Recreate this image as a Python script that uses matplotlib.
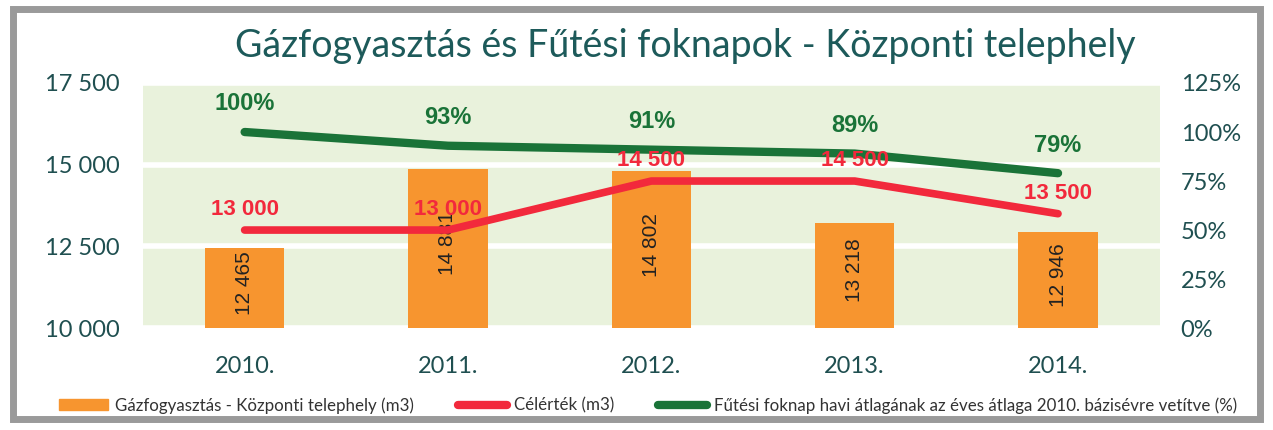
import numpy as np
from matplotlib import pyplot as plt
from matplotlib.patches import Rectangle
from matplotlib.lines import Line2D
from matplotlib.patches import Patch

years = ["2010.", "2011.", "2012.", "2013.", "2014."]
gas_m3 = [12465, 14881, 14802, 13218, 12946]
target_m3 = [13000, 13000, 14500, 14500, 13500]
degree_days_pct = [100, 93, 91, 89, 79]

gas_labels = ["12 465", "14 881", "14 802", "13 218", "12 946"]
target_labels = ["13 000", "13 000", "14 500", "14 500", "13 500"]

TEAL = "#1f4f50"
ORANGE = "#f7952f"
RED = "#f2293c"
GREEN = "#1a7338"
BG = "#e9f2dc"

plt.rcParams["font.family"] = ["Lato", "DejaVu Sans"]

fig = plt.figure(figsize=(12.73, 4.30), dpi=100)
fig.patch.set_facecolor("white")

# scanned frame
fig.add_artist(Rectangle((0.010, 0.025), 0.980, 0.955, transform=fig.transFigure,
                         fill=False, edgecolor="#9a9a9a", linewidth=5))

ax = fig.add_axes([0.1123, 0.237, 0.7987, 0.570])
ax.set_facecolor(BG)
x = np.arange(len(years))

ax.bar(x, [g - 10000 for g in gas_m3], bottom=10000, width=0.39, color=ORANGE, zorder=2)
for xi, g, lab in zip(x, gas_m3, gas_labels):
    ax.text(xi, (g + 10000) / 2 + 150, lab, rotation=90, ha="center", va="center",
            fontsize=15, color="#222222", family="Liberation Sans", zorder=3)

ax.plot(x, target_m3, color=RED, linewidth=5.5, solid_capstyle="round", zorder=4)

ax.set_xlim(-0.5, 4.5)
ax.set_ylim(10000, 17500)
ax.set_yticks([10000, 12500, 15000, 17500])
ax.set_yticklabels(["10 000", "12 500", "15 000", "17 500"])
ax.set_xticks(x)
ax.set_xticklabels(years)
ax.grid(axis="y", color="white", linewidth=4, zorder=1)
ax.set_axisbelow(True)
for s in ax.spines.values():
    s.set_visible(False)
ax.tick_params(length=0, labelsize=17, colors=TEAL)
ax.tick_params(axis="x", pad=20)
ax.tick_params(axis="y", pad=17)

ax2 = ax.twinx()
ax2.plot(x, degree_days_pct, color=GREEN, linewidth=6, solid_capstyle="round", zorder=4)
for xi, p in zip(x, degree_days_pct):
    ax2.annotate(f"{p}%", (xi, p), xytext=(0, 12), textcoords="offset points", ha="center",
                 va="bottom", fontsize=17, fontweight="bold", color=GREEN,
                 family="Liberation Sans")
# target labels on top axes so the green line does not hide them
for xi, t, lab in zip(x, target_m3, target_labels):
    ax2.annotate(lab, (xi, t), xycoords=ax.transData, xytext=(0, 7),
                 textcoords="offset points", ha="center", va="bottom", fontsize=16,
                 fontweight="bold", color=RED, family="Liberation Sans", zorder=5)
ax2.set_ylim(0, 125)
ax2.set_yticks([0, 25, 50, 75, 100, 125])
ax2.set_yticklabels([f"{v}%" for v in [0, 25, 50, 75, 100, 125]])
for s in ax2.spines.values():
    s.set_visible(False)
ax2.tick_params(length=0, labelsize=17, colors=TEAL, pad=15)

fig.text(0.538, 0.893, "Gázfogyasztás és Fűtési foknapok - Központi telephely",
         ha="center", va="center", fontsize=27, color="#1d5a5a")

handles = [Patch(color=ORANGE),
           Line2D([0], [0], color=RED, linewidth=6, solid_capstyle="round"),
           Line2D([0], [0], color=GREEN, linewidth=6, solid_capstyle="round")]
labels = ["Gázfogyasztás - Központi telephely (m3)", "Célérték (m3)",
          "Fűtési foknap havi átlagának az éves átlaga 2010. bázisévre vetítve (%)"]
fig.legend(handles, labels, loc="center", bbox_to_anchor=(0.509, 0.057), ncol=3,
           frameon=False, fontsize=12.2, labelcolor="#333333", handlelength=2.9,
           handleheight=0.6, handletextpad=0.4, columnspacing=2.6)

fig.savefig("out.png", dpi=100)
